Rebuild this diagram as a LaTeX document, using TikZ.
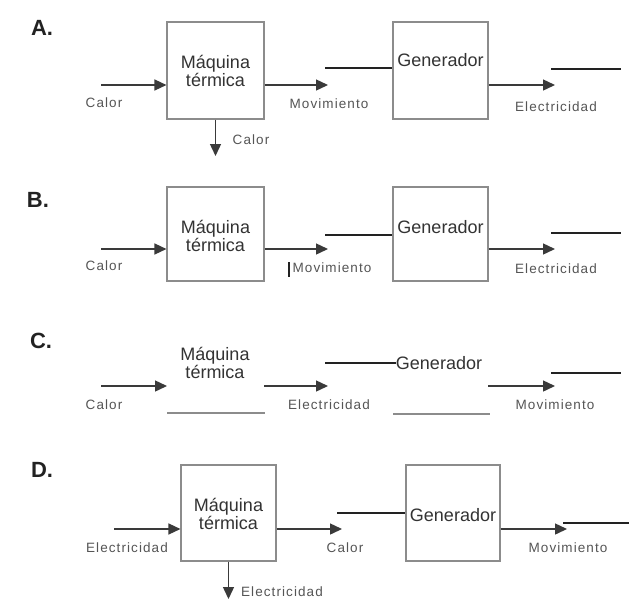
\documentclass[tikz,border=0pt]{standalone}
\usepackage{fontspec}
\setmainfont{Liberation Sans}
\newfontfamily\labfont[LetterSpace=8]{Liberation Sans}
\usetikzlibrary{arrows.meta}
\definecolor{boxgray}{HTML}{8C8C8C}
\definecolor{arrgray}{HTML}{3A3A3A}
\definecolor{linedark}{HTML}{222222}
\definecolor{txtdark}{HTML}{333333}
\definecolor{lblgray}{HTML}{555555}
\definecolor{ltrdark}{HTML}{222222}
\begin{document}
\begin{tikzpicture}[x=1pt,y=-1pt,
 box/.style={draw=boxgray,line width=1.1pt,inner sep=0pt},
 btxt/.style={font=\fontsize{18}{18}\selectfont,text=txtdark,align=center,inner sep=0pt},
 lbl/.style={font=\labfont\fontsize{13.5}{14}\selectfont,text=lblgray,inner sep=0pt},
 ltr/.style={font=\bfseries\fontsize{22}{22}\selectfont,text=ltrdark,inner sep=0pt},
 arr/.style={draw=arrgray,line width=1.4pt,-{Triangle[length=12pt,width=11pt]}},
 free/.style={draw=linedark,line width=1.4pt},
 thinline/.style={draw=boxgray,line width=1.1pt}]
\fill[white] (0,0) rectangle (629,614);
\useasboundingbox (0,0) rectangle (629,614);

% ---------------- A ----------------
\node[ltr] (A) at (42,28) {A.};
\node[box,minimum width=97pt,minimum height=97pt] (mA) at (215.5,70.5) {};
\node[btxt] (mAt) at (mA.center) {Máquina\\térmica};
\node[box,minimum width=95pt,minimum height=97pt] (gA) at (440.5,70.5) {};
\node[btxt] (gAt) at ([yshift=10pt]gA.center) {Generador};
\coordinate (inA) at (101,85);
\draw[arr] (inA) -- (inA -| mA.west);
\node[lbl] (cA1) at (104,103) {Calor};
\coordinate (dA) at (215.5,156);
\draw[arr] (mA.south) -- (dA);
\node[lbl] (cA2) at (251,140) {Calor};
\coordinate (oA) at (328,85);
\draw[arr] (mA.east |- oA) -- (oA);
\node[lbl] (mvA) at (329,104) {Movimiento};
\coordinate (lA) at (325,68);
\draw[free] (lA) -- (lA -| gA.west);
\coordinate (eA) at (555,85);
\draw[arr] (gA.east |- eA) -- (eA);
\node[lbl] (elA) at (556,107) {Electricidad};
\coordinate (rA1) at (551,69);
\coordinate (rA2) at (621,69);
\draw[free] (rA1) -- (rA2);

% ---------------- B ----------------
\node[ltr] (B) at (38,200) {B.};
\node[box,minimum width=97pt,minimum height=94pt] (mB) at (215.5,234) {};
\node[btxt] (mBt) at ([yshift=-2pt]mB.center) {Máquina\\térmica};
\node[box,minimum width=95pt,minimum height=94pt] (gB) at (440.5,234) {};
\node[btxt] (gBt) at ([yshift=7pt]gB.center) {Generador};
\coordinate (inB) at (101,249);
\draw[arr] (inB) -- (inB -| mB.west);
\node[lbl] (cB1) at (104,266) {Calor};
\coordinate (oB) at (328,249);
\draw[arr] (mB.east |- oB) -- (oB);
\node[lbl] (mvB) at (332,268) {Movimiento};
\coordinate (bB1) at (289,262);
\coordinate (bB2) at (289,277);
\draw[free,line width=2pt] (bB1) -- (bB2);
\coordinate (lB) at (325,235);
\draw[free] (lB) -- (lB -| gB.west);
\coordinate (eB) at (555,249);
\draw[arr] (gB.east |- eB) -- (eB);
\node[lbl] (elB) at (556,269) {Electricidad};
\coordinate (rB1) at (551,233);
\coordinate (rB2) at (621,233);
\draw[free] (rB1) -- (rB2);

% ---------------- C ----------------
\node[ltr] (C) at (41,341) {C.};
\node[btxt] (mCt) at (215,363) {Máquina\\térmica};
\coordinate (inC1) at (101,386);
\coordinate (inC2) at (167,386);
\draw[arr] (inC1) -- (inC2);
\node[lbl] (cC1) at (104,405) {Calor};
\coordinate (bC1) at (167,413);
\coordinate (bC2) at (265,413);
\draw[thinline] (bC1) -- (bC2);
\coordinate (oC1) at (264,386);
\coordinate (oC2) at (328,386);
\draw[arr] (oC1) -- (oC2);
\node[lbl] (elC) at (329,405) {Electricidad};
\node[btxt] (gCt) at (439,363) {Generador};
\coordinate (lC) at (325,363);
\draw[free] (lC) -- (gCt.west);
\coordinate (bC3) at (393,414);
\coordinate (bC4) at (490,414);
\draw[thinline] (bC3) -- (bC4);
\coordinate (eC1) at (488,386);
\coordinate (eC2) at (555,386);
\draw[arr] (eC1) -- (eC2);
\node[lbl] (mvC) at (555,405) {Movimiento};
\coordinate (rC1) at (551,373);
\coordinate (rC2) at (621,373);
\draw[free] (rC1) -- (rC2);

% ---------------- D ----------------
\node[ltr] (D) at (42,470) {D.};
\node[box,minimum width=95pt,minimum height=96pt] (mD) at (228.5,513) {};
\node[btxt] (mDt) at ([yshift=-1pt]mD.center) {Máquina\\térmica};
\node[box,minimum width=94pt,minimum height=96pt] (gD) at (453,513) {};
\node[btxt] (gDt) at ([yshift=-2pt]gD.center) {Generador};
\coordinate (inD) at (114,529);
\draw[arr] (inD) -- (inD -| mD.west);
\node[lbl] (elD1) at (127,548) {Electricidad};
\coordinate (dD) at (228.5,599);
\draw[arr] (mD.south) -- (dD);
\node[lbl] (elD2) at (282,592) {Electricidad};
\coordinate (oD) at (342,529);
\draw[arr] (mD.east |- oD) -- (oD);
\node[lbl] (cD) at (345,548) {Calor};
\coordinate (lD) at (337,513);
\draw[free] (lD) -- (lD -| gD.west);
\coordinate (eD) at (567,529);
\draw[arr] (gD.east |- eD) -- (eD);
\node[lbl] (mvD) at (568,548) {Movimiento};
\coordinate (rD1) at (563,523);
\coordinate (rD2) at (629,523);
\draw[free] (rD1) -- (rD2);
\end{tikzpicture}
\end{document}
